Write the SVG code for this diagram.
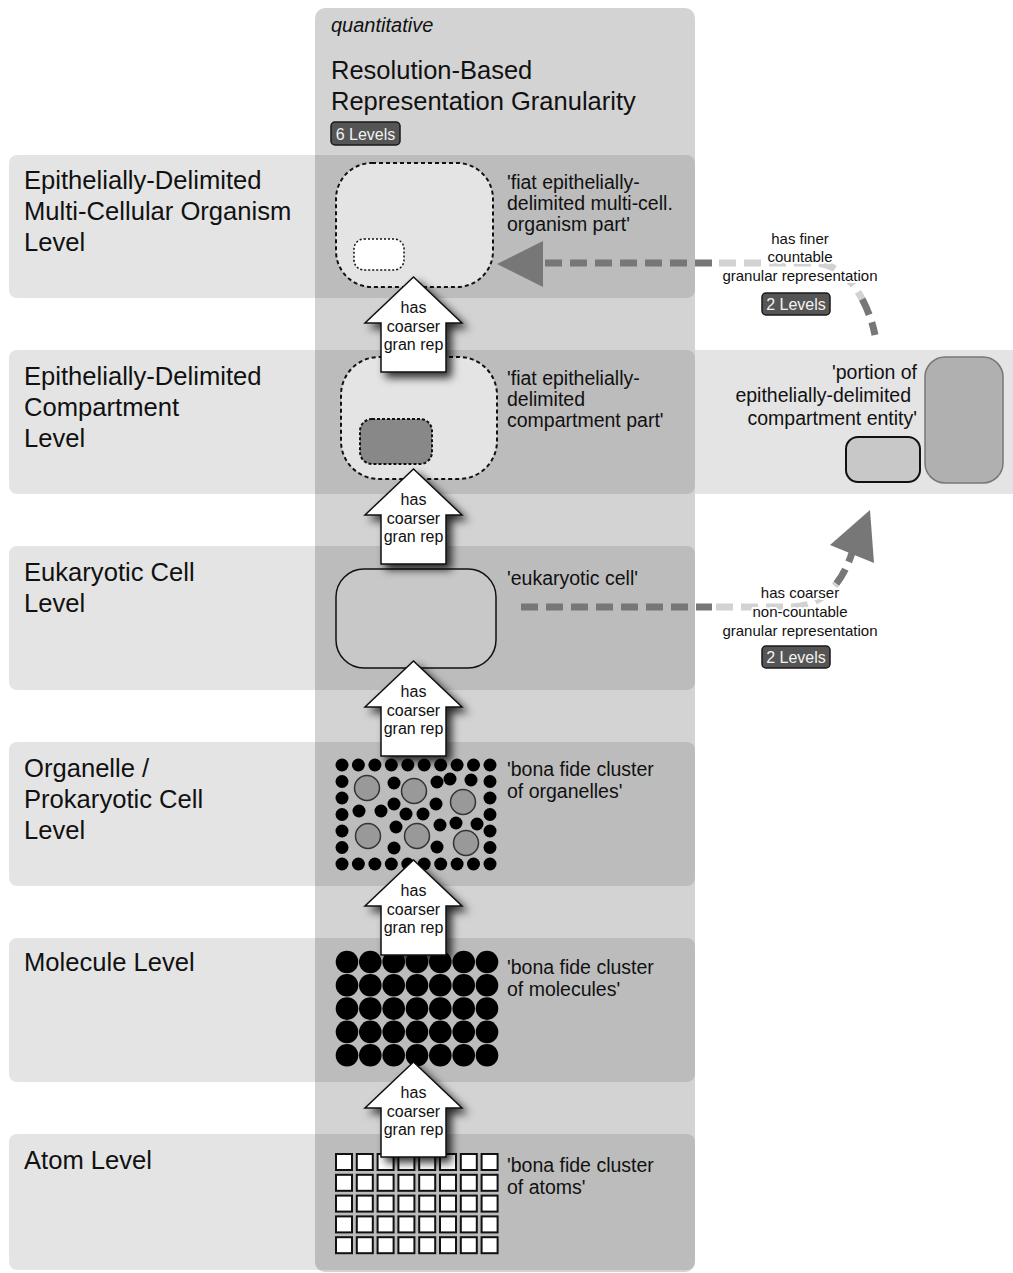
<svg xmlns="http://www.w3.org/2000/svg" xmlns:xlink="http://www.w3.org/1999/xlink" width="1013" height="1273" viewBox="0 0 1013 1273">
  <style>
    text { font-family: "Liberation Sans", Arial, sans-serif; fill: #111; }
    .lvl { font-size: 25.6px; }
    .title { font-size: 25.5px; }
    .node-lbl { font-size: 19.5px; }
    .arr-lbl { font-size: 16px; text-anchor: middle; }
    .edge-lbl { font-size: 15px; text-anchor: middle; stroke: #fff; stroke-width: 4px; paint-order: stroke; stroke-linejoin: round; }
    .badge { fill: #555; stroke: #1a1a1a; stroke-width: 1.5; }
    .badge-txt { font-size: 16px; fill: #f2f2f2; text-anchor: middle; }
    .band { fill: #000; fill-opacity: 0.106; }
    .up { fill: #fff; stroke: #111; stroke-width: 1.5; filter: url(#shadow); }
    .dash-dark { fill: none; stroke: #777; stroke-width: 7; stroke-dasharray: 17 8; }
    .dash-light { fill: none; stroke: #d2d2d2; stroke-width: 7; stroke-dasharray: 17 8; }
  </style>
  <defs>
    <filter id="shadow" x="-30%" y="-30%" width="170%" height="170%">
      <feDropShadow dx="5" dy="5" stdDeviation="4.5" flood-color="#000" flood-opacity="0.8"/>
    </filter>
    <circle id="dot" r="6.5" fill="#000"/>
    <circle id="mol" r="11.3" fill="#000"/>
    <circle id="org" r="12.5" fill="#999" stroke="#333" stroke-width="1.5"/>
    <rect id="atom" width="16" height="16" fill="#fff" stroke="#111" stroke-width="2"/>
    <!-- upward block arrow, tip at origin -->
    <path id="uparrow" d="M0,0 L48.5,46 L32.5,46 L32.5,95 L-32.5,95 L-32.5,46 L-48.5,46 Z"/>
  </defs>

  <!-- background -->
  <rect width="1013" height="1273" fill="#fff"/>

  <!-- granularity column -->
  <g id="column">
    <rect x="315" y="8" width="380" height="1264" rx="10" fill="#d3d3d3"/>
    <text x="331" y="32" font-size="20" font-style="italic">quantitative</text>
    <text class="title" x="331" y="79">Resolution-Based</text>
    <text class="title" x="331" y="110">Representation Granularity</text>
    <rect class="badge" x="331" y="122" width="69" height="23" rx="4"/>
    <text class="badge-txt" x="365.5" y="139.5">6 Levels</text>
  </g>

  <!-- level bands -->
  <g id="levels">
    <g id="level-organism">
      <rect class="band" x="9" y="155" width="686" height="143" rx="8"/>
      <text class="lvl" x="24" y="189">Epithelially-Delimited</text>
      <text class="lvl" x="24" y="220">Multi-Cellular Organism</text>
      <text class="lvl" x="24" y="251">Level</text>
    </g>
    <g id="level-compartment">
      <rect class="band" x="9" y="350" width="686" height="144" rx="8"/>
      <rect x="695" y="350" width="318" height="144" fill="#e4e4e4"/>
      <text class="lvl" x="24" y="385">Epithelially-Delimited</text>
      <text class="lvl" x="24" y="416">Compartment</text>
      <text class="lvl" x="24" y="447">Level</text>
    </g>
    <g id="level-cell">
      <rect class="band" x="9" y="546" width="686" height="144" rx="8"/>
      <text class="lvl" x="24" y="581">Eukaryotic Cell</text>
      <text class="lvl" x="24" y="612">Level</text>
    </g>
    <g id="level-organelle">
      <rect class="band" x="9" y="742" width="686" height="144" rx="8"/>
      <text class="lvl" x="24" y="777">Organelle /</text>
      <text class="lvl" x="24" y="808">Prokaryotic Cell</text>
      <text class="lvl" x="24" y="839">Level</text>
    </g>
    <g id="level-molecule">
      <rect class="band" x="9" y="938" width="686" height="144" rx="8"/>
      <text class="lvl" x="24" y="971">Molecule Level</text>
    </g>
    <g id="level-atom">
      <rect class="band" x="9" y="1134" width="686" height="136" rx="8"/>
      <text class="lvl" x="24" y="1169">Atom Level</text>
    </g>
  </g>

  <!-- entity nodes -->
  <g id="node-organism-part">
    <rect x="336" y="163" width="157" height="124" rx="36" fill="#e4e4e4" stroke="#111" stroke-width="2" stroke-dasharray="4 3"/>
    <rect x="354" y="239" width="50" height="31" rx="10" fill="#fff" stroke="#111" stroke-width="1.5" stroke-dasharray="2 2"/>
    <text class="node-lbl" x="507" y="189">'fiat epithelially-</text>
    <text class="node-lbl" x="507" y="210">delimited multi-cell.</text>
    <text class="node-lbl" x="507" y="231">organism part'</text>
  </g>

  <g id="node-compartment-part">
    <rect x="341" y="357" width="156" height="122" rx="38" fill="#e4e4e4" stroke="#111" stroke-width="2" stroke-dasharray="4 3"/>
    <rect x="360" y="419" width="72" height="45" rx="12" fill="#888" stroke="#111" stroke-width="2" stroke-dasharray="3 2"/>
    <text class="node-lbl" x="507" y="385">'fiat epithelially-</text>
    <text class="node-lbl" x="507" y="406">delimited</text>
    <text class="node-lbl" x="507" y="427">compartment part'</text>
  </g>

  <g id="node-compartment-portion">
    <rect x="925" y="357" width="78" height="126" rx="20" fill="#b0b0b0" stroke="#777" stroke-width="1.5"/>
    <rect x="846" y="437" width="74" height="45" rx="12" fill="#c8c8c8" stroke="#111" stroke-width="2"/>
    <text class="node-lbl" x="917" y="379" text-anchor="end">'portion of</text>
    <text class="node-lbl" x="911" y="402" text-anchor="end">epithelially-delimited</text>
    <text class="node-lbl" x="917" y="425" text-anchor="end">compartment entity'</text>
  </g>

  <g id="node-cell">
    <rect x="336" y="569" width="160" height="99" rx="28" fill="#c8c8c8" stroke="#111" stroke-width="1.5"/>
    <text class="node-lbl" x="507" y="585">'eukaryotic cell'</text>
  </g>

  <g id="node-organelles">
    <!-- border of small molecules -->
    <use href="#dot" x="342" y="765"/><use href="#dot" x="358.4" y="765"/><use href="#dot" x="374.9" y="765"/><use href="#dot" x="391.3" y="765"/><use href="#dot" x="407.8" y="765"/>
    <use href="#dot" x="424.2" y="765"/><use href="#dot" x="440.7" y="765"/><use href="#dot" x="457.1" y="765"/><use href="#dot" x="473.5" y="765"/><use href="#dot" x="490" y="765"/>
    <use href="#dot" x="342" y="864"/><use href="#dot" x="358.4" y="864"/><use href="#dot" x="374.9" y="864"/><use href="#dot" x="391.3" y="864"/><use href="#dot" x="407.8" y="864"/>
    <use href="#dot" x="424.2" y="864"/><use href="#dot" x="440.7" y="864"/><use href="#dot" x="457.1" y="864"/><use href="#dot" x="473.5" y="864"/><use href="#dot" x="490" y="864"/>
    <use href="#dot" x="342" y="781.5"/><use href="#dot" x="342" y="798"/><use href="#dot" x="342" y="814.5"/><use href="#dot" x="342" y="831"/><use href="#dot" x="342" y="847.5"/>
    <use href="#dot" x="490" y="781.5"/><use href="#dot" x="490" y="798"/><use href="#dot" x="490" y="814.5"/><use href="#dot" x="490" y="831"/><use href="#dot" x="490" y="847.5"/>
    <!-- inner molecules -->
    <use href="#dot" x="394" y="783"/><use href="#dot" x="437" y="782"/><use href="#dot" x="450" y="779"/><use href="#dot" x="471" y="780"/>
    <use href="#dot" x="359" y="811"/><use href="#dot" x="381" y="811"/><use href="#dot" x="394" y="804"/><use href="#dot" x="406" y="814"/>
    <use href="#dot" x="423" y="814"/><use href="#dot" x="436" y="804"/><use href="#dot" x="440" y="825"/><use href="#dot" x="456" y="823"/>
    <use href="#dot" x="477" y="824"/><use href="#dot" x="396" y="827"/><use href="#dot" x="394" y="848"/><use href="#dot" x="437" y="847"/>
    <!-- organelles -->
    <use href="#org" x="367" y="788"/><use href="#org" x="414" y="791"/><use href="#org" x="463" y="802"/>
    <use href="#org" x="368" y="836"/><use href="#org" x="417" y="836"/><use href="#org" x="466" y="843"/>
    <text class="node-lbl" x="507" y="776">'bona fide cluster</text>
    <text class="node-lbl" x="507" y="798">of organelles'</text>
  </g>

  <g id="node-molecules">
    <use href="#mol" x="347" y="962"/><use href="#mol" x="370.3" y="962"/><use href="#mol" x="393.7" y="962"/><use href="#mol" x="417" y="962"/><use href="#mol" x="440.3" y="962"/><use href="#mol" x="463.7" y="962"/><use href="#mol" x="487" y="962"/>
    <use href="#mol" x="347" y="985.3"/><use href="#mol" x="370.3" y="985.3"/><use href="#mol" x="393.7" y="985.3"/><use href="#mol" x="417" y="985.3"/><use href="#mol" x="440.3" y="985.3"/><use href="#mol" x="463.7" y="985.3"/><use href="#mol" x="487" y="985.3"/>
    <use href="#mol" x="347" y="1008.6"/><use href="#mol" x="370.3" y="1008.6"/><use href="#mol" x="393.7" y="1008.6"/><use href="#mol" x="417" y="1008.6"/><use href="#mol" x="440.3" y="1008.6"/><use href="#mol" x="463.7" y="1008.6"/><use href="#mol" x="487" y="1008.6"/>
    <use href="#mol" x="347" y="1031.9"/><use href="#mol" x="370.3" y="1031.9"/><use href="#mol" x="393.7" y="1031.9"/><use href="#mol" x="417" y="1031.9"/><use href="#mol" x="440.3" y="1031.9"/><use href="#mol" x="463.7" y="1031.9"/><use href="#mol" x="487" y="1031.9"/>
    <use href="#mol" x="347" y="1055.2"/><use href="#mol" x="370.3" y="1055.2"/><use href="#mol" x="393.7" y="1055.2"/><use href="#mol" x="417" y="1055.2"/><use href="#mol" x="440.3" y="1055.2"/><use href="#mol" x="463.7" y="1055.2"/><use href="#mol" x="487" y="1055.2"/>
    <text class="node-lbl" x="507" y="974">'bona fide cluster</text>
    <text class="node-lbl" x="507" y="996">of molecules'</text>
  </g>

  <g id="node-atoms">
    <use href="#atom" x="336" y="1154"/><use href="#atom" x="356.8" y="1154"/><use href="#atom" x="377.6" y="1154"/><use href="#atom" x="398.4" y="1154"/><use href="#atom" x="419.2" y="1154"/><use href="#atom" x="440" y="1154"/><use href="#atom" x="460.8" y="1154"/><use href="#atom" x="481.6" y="1154"/>
    <use href="#atom" x="336" y="1174.8"/><use href="#atom" x="356.8" y="1174.8"/><use href="#atom" x="377.6" y="1174.8"/><use href="#atom" x="398.4" y="1174.8"/><use href="#atom" x="419.2" y="1174.8"/><use href="#atom" x="440" y="1174.8"/><use href="#atom" x="460.8" y="1174.8"/><use href="#atom" x="481.6" y="1174.8"/>
    <use href="#atom" x="336" y="1195.6"/><use href="#atom" x="356.8" y="1195.6"/><use href="#atom" x="377.6" y="1195.6"/><use href="#atom" x="398.4" y="1195.6"/><use href="#atom" x="419.2" y="1195.6"/><use href="#atom" x="440" y="1195.6"/><use href="#atom" x="460.8" y="1195.6"/><use href="#atom" x="481.6" y="1195.6"/>
    <use href="#atom" x="336" y="1216.4"/><use href="#atom" x="356.8" y="1216.4"/><use href="#atom" x="377.6" y="1216.4"/><use href="#atom" x="398.4" y="1216.4"/><use href="#atom" x="419.2" y="1216.4"/><use href="#atom" x="440" y="1216.4"/><use href="#atom" x="460.8" y="1216.4"/><use href="#atom" x="481.6" y="1216.4"/>
    <use href="#atom" x="336" y="1237.2"/><use href="#atom" x="356.8" y="1237.2"/><use href="#atom" x="377.6" y="1237.2"/><use href="#atom" x="398.4" y="1237.2"/><use href="#atom" x="419.2" y="1237.2"/><use href="#atom" x="440" y="1237.2"/><use href="#atom" x="460.8" y="1237.2"/><use href="#atom" x="481.6" y="1237.2"/>
    <text class="node-lbl" x="507" y="1172">'bona fide cluster</text>
    <text class="node-lbl" x="507" y="1194">of atoms'</text>
  </g>

  <!-- connectors -->
  <g id="connectors">
    <!-- has coarser gran rep (block arrows between levels) -->
    <g id="coarser-1">
      <use href="#uparrow" class="up" x="413.5" y="277"/>
      <text class="arr-lbl" x="413.5" y="313">has</text>
      <text class="arr-lbl" x="413.5" y="332">coarser</text>
      <text class="arr-lbl" x="413.5" y="350">gran rep</text>
    </g>
    <g id="coarser-2">
      <use href="#uparrow" class="up" x="413.5" y="469"/>
      <text class="arr-lbl" x="413.5" y="505">has</text>
      <text class="arr-lbl" x="413.5" y="524">coarser</text>
      <text class="arr-lbl" x="413.5" y="542">gran rep</text>
    </g>
    <g id="coarser-3">
      <use href="#uparrow" class="up" x="413.5" y="661"/>
      <text class="arr-lbl" x="413.5" y="697">has</text>
      <text class="arr-lbl" x="413.5" y="716">coarser</text>
      <text class="arr-lbl" x="413.5" y="734">gran rep</text>
    </g>
    <g id="coarser-4">
      <use href="#uparrow" class="up" x="413.5" y="860"/>
      <text class="arr-lbl" x="413.5" y="896">has</text>
      <text class="arr-lbl" x="413.5" y="915">coarser</text>
      <text class="arr-lbl" x="413.5" y="933">gran rep</text>
    </g>
    <g id="coarser-5">
      <use href="#uparrow" class="up" x="413.5" y="1062"/>
      <text class="arr-lbl" x="413.5" y="1098">has</text>
      <text class="arr-lbl" x="413.5" y="1117">coarser</text>
      <text class="arr-lbl" x="413.5" y="1135">gran rep</text>
    </g>

    <!-- has finer countable granular representation -->
    <g id="finer-countable">
      <path class="dash-dark" d="M545,263 L715,263"/>
      <path class="dash-light" d="M719,263 L815,263 C834.5,263 851.04,278.63 862.16,299.19"/>
      <path class="dash-dark" d="M862.16,299.19 C868.14,310.26 872.55,322.75 875,335"/>
      <polygon points="497,264 543,241 543,287" fill="#777"/>
      <text class="edge-lbl" x="800" y="244">has finer</text>
      <text class="edge-lbl" x="800" y="262">countable</text>
      <text class="edge-lbl" x="800" y="281">granular representation</text>
      <rect class="badge" x="762" y="293" width="68" height="22" rx="4"/>
      <text class="badge-txt" x="796" y="309.5">2 Levels</text>
    </g>

    <!-- has coarser non-countable granular representation -->
    <g id="coarser-noncountable">
      <path class="dash-dark" d="M521,607 L712,607"/>
      <path class="dash-light" d="M716,607 L790,607 C811,607 825.88,597.28 836.37,583.67"/>
      <path class="dash-dark" d="M836.37,583.67 C843.36,574.6 848.4,563.8 852,553"/>
      <polygon points="870,510 830,545 874,563" fill="#777"/>
      <text class="edge-lbl" x="800" y="598">has coarser</text>
      <text class="edge-lbl" x="800" y="617">non-countable</text>
      <text class="edge-lbl" x="800" y="636">granular representation</text>
      <rect class="badge" x="762" y="646" width="68" height="22" rx="4"/>
      <text class="badge-txt" x="796" y="662.5">2 Levels</text>
    </g>
  </g>
</svg>
